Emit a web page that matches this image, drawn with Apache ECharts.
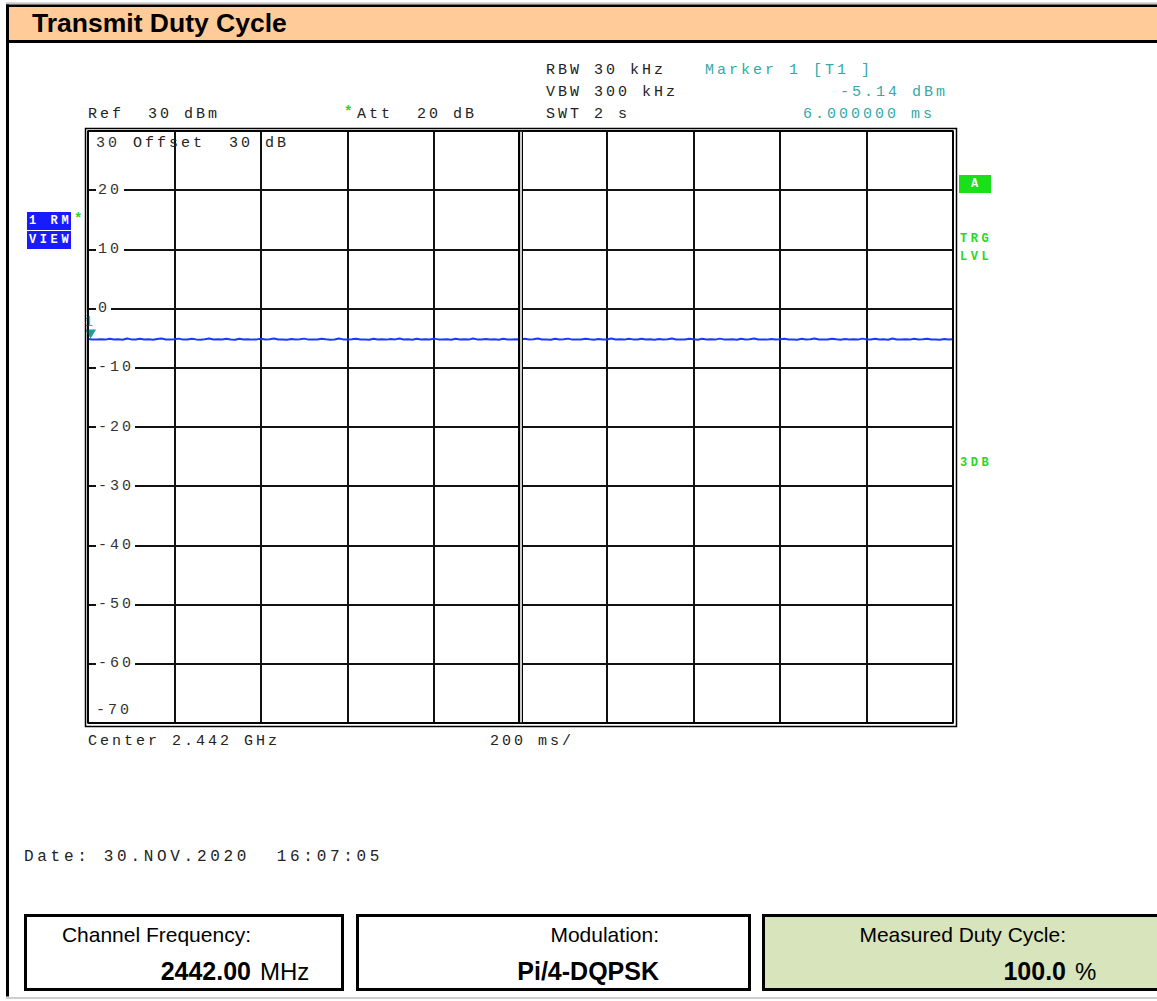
<!DOCTYPE html>
<html>
<head>
<meta charset="utf-8">
<script src="https://cdn.jsdelivr.net/npm/echarts@6/dist/echarts.min.js"></script>
<style>
html,body{margin:0;padding:0;background:#fff;}
#c{width:1157px;height:1001px;}
#c text[style*="Liberation Mono"]{letter-spacing:3.6px;}
#c text[style*="Liberation Mono"][style*="15px"]{letter-spacing:3px;}
#c text[style*="Liberation Mono"][style*="16px"]{letter-spacing:3.7px;}
</style>
</head>
<body>
<div id="c"></div>
<script>
// ---------------- data ----------------
const titleText = 'Transmit Duty Cycle';
const sweepTimeMs = 2000;          // SWT 2 s
const timeDivMs = 200;             // 200 ms/div
const sampleStepMs = 10;           // trace sample spacing
const yTickValues = [30, 20, 10, 0, -10, -20, -30, -40, -50, -60, -70];
const traceLevelsDbm = [
 -5.14,-5.22,-5.20,-5.18,-5.24,-5.10,-5.21,-5.19,-5.25,-5.06,-5.20,-5.23,-5.08,-5.21,-5.18,-5.26,-5.12,-5.05,-5.22,-5.20,
 -5.19,-5.07,-5.24,-5.21,-5.09,-5.20,-5.25,-5.18,-5.06,-5.22,-5.19,-5.23,-5.11,-5.20,-5.26,-5.08,-5.21,-5.17,-5.24,-5.20,
 -5.10,-5.22,-5.19,-5.05,-5.23,-5.20,-5.27,-5.12,-5.21,-5.18,-5.07,-5.24,-5.20,-5.22,-5.09,-5.19,-5.25,-5.21,-5.06,-5.20,
 -5.23,-5.18,-5.11,-5.22,-5.20,-5.26,-5.08,-5.21,-5.19,-5.24,-5.13,-5.20,-5.05,-5.22,-5.19,-5.25,-5.10,-5.21,-5.18,-5.23,
 -5.07,-5.20,-5.22,-5.19,-5.26,-5.09,-5.21,-5.18,-5.24,-5.06,-5.20,-5.23,-5.12,-5.21,-5.19,-5.25,-5.08,-5.22,-5.20,-5.17,
 -5.24,-5.10,-5.21,-5.19,-5.05,-5.23,-5.20,-5.26,-5.11,-5.22,-5.18,-5.07,-5.24,-5.20,-5.21,-5.09,-5.19,-5.25,-5.13,-5.20,
 -5.22,-5.06,-5.21,-5.18,-5.24,-5.10,-5.20,-5.23,-5.08,-5.22,-5.19,-5.26,-5.12,-5.21,-5.17,-5.05,-5.23,-5.20,-5.22,-5.09,
 -5.19,-5.25,-5.11,-5.21,-5.18,-5.24,-5.07,-5.20,-5.22,-5.19,-5.26,-5.10,-5.21,-5.18,-5.06,-5.23,-5.20,-5.24,-5.12,-5.21,
 -5.19,-5.08,-5.22,-5.20,-5.25,-5.11,-5.21,-5.18,-5.05,-5.23,-5.20,-5.22,-5.09,-5.19,-5.26,-5.13,-5.21,-5.18,-5.24,-5.07,
 -5.20,-5.22,-5.10,-5.21,-5.19,-5.25,-5.06,-5.22,-5.20,-5.18,-5.24,-5.11,-5.21,-5.19,-5.08,-5.23,-5.20,-5.26,-5.12,-5.21,
 -5.18
];
const markerTimeMs = 6;
const markerLevelDbm = -5.14;
const setupLines = ['RBW 30 kHz', 'VBW 300 kHz', 'SWT 2 s'];
const refText = 'Ref  30 dBm';
const attText = 'Att  20 dB';
const offsetText = 'Offset  30 dB';
const centerText = 'Center 2.442 GHz';
const spanText = '200 ms/';
const dateText = 'Date: 30.NOV.2020  16:07:05';
const footerLabels = ['Channel Frequency:', 'Modulation:', 'Measured Duty Cycle:'];
const footerValues = ['2442.00', 'Pi/4-DQPSK', '100.0'];
const footerUnits = ['MHz', '', '%'];

// ---------------- build ----------------
const traceData = traceLevelsDbm.map((v, i) => [i * sampleStepMs, v]);
const MONO = 'Liberation Mono';
const SANS = 'Liberation Sans';
const TEAL = '#35a9a9';
const GREEN = '#26d826';
const TXT = '#222';

function txt(text, x, y, o) {
  o = o || {};
  return {
    type: 'text', x: x, y: y, silent: true, z: 10,
    style: {
      text: text,
      fill: o.color || TXT,
      fontFamily: o.family || MONO,
      fontSize: o.size || 15,
      fontWeight: o.weight || 'normal',
      textAlign: o.align || 'left',
      verticalAlign: 'middle',
      textVerticalAlign: 'middle'
    }
  };
}
function rect(x, y, w, h, style, z) {
  return { type: 'rect', silent: true, z: z || 5, shape: { x: x, y: y, width: w, height: h }, style: style };
}

const graphics = [
  // header
  rect(6, 2.5, 1151, 1.2, { fill: '#b5b5b5' }),
  rect(6, 4.5, 1151, 38, { fill: '#FFCC99' }),
  rect(6, 4.5, 1151, 2.6, { fill: '#000' }),
  rect(6, 40, 1151, 3, { fill: '#000' }),
  rect(6, 4.5, 3, 992, { fill: '#000' }),
  rect(6, 997, 1151, 2, { fill: '#cfcfcf' }),
  txt(titleText, 32, 23, { family: SANS, size: 26.5, weight: 'bold', color: '#000' }),
  // plot frame (double line)
  rect(88, 131, 865, 592, { fill: 'none', stroke: '#000', lineWidth: 1.5 }, 8),
  rect(85.5, 128.5, 871, 598, { fill: 'none', stroke: '#000', lineWidth: 1.5 }, 8),
  // top annotations
  txt(setupLines[0], 546, 70),
  txt(setupLines[1], 546, 92),
  txt(setupLines[2], 546, 114),
  txt('Marker 1 [T1 ]', 705, 70, { color: TEAL }),
  txt(markerLevelDbm.toFixed(2) + ' dBm', 840, 92, { color: TEAL }),
  txt(markerTimeMs.toFixed(6) + ' ms', 803, 114, { color: TEAL }),
  txt(refText, 88, 114),
  txt('*', 344, 112, { color: GREEN, weight: 'bold', size: 14 }),
  txt(attText, 357, 114),
  txt(offsetText, 133, 143),
  // left trace indicators
  rect(27, 212, 44, 18, { fill: '#1a1aff' }),
  rect(27, 231, 44, 18, { fill: '#1a1aff' }),
  txt('1 RM', 29, 221, { color: '#fff', size: 12, weight: 'bold' }),
  txt('VIEW', 29, 240, { color: '#fff', size: 12, weight: 'bold' }),
  txt('*', 74, 219, { color: GREEN, weight: 'bold', size: 14 }),
  // right indicators
  rect(959, 175, 32, 18, { fill: '#19e019' }),
  txt('A', 971, 184, { color: '#fff', size: 12, weight: 'bold' }),
  txt('TRG', 960, 239, { color: GREEN, size: 12, weight: 'bold' }),
  txt('LVL', 960, 257, { color: GREEN, size: 12, weight: 'bold' }),
  txt('3DB', 960, 463, { color: GREEN, size: 12, weight: 'bold' }),
  // bottom annotations
  txt(centerText, 88, 741),
  txt(spanText, 490, 741),
  txt(dateText, 24, 857, { size: 16 }),
  // footer boxes
  rect(25.5, 915.5, 317, 74, { fill: '#fff', stroke: '#000', lineWidth: 3 }),
  rect(357.5, 915.5, 392, 74, { fill: '#fff', stroke: '#000', lineWidth: 3 }),
  rect(763.5, 915.5, 400, 74, { fill: '#D8E4BC', stroke: '#000', lineWidth: 3 })
];
const footerRight = [251, 659, 1066];
for (let i = 0; i < 3; i++) {
  graphics.push(txt(footerLabels[i], footerRight[i], 934, { family: SANS, size: 21, color: '#000', align: 'right' }));
  graphics.push(txt(footerValues[i], footerRight[i], 971, { family: SANS, size: 25, weight: 'bold', color: '#000', align: 'right' }));
  if (footerUnits[i]) {
    graphics.push(txt(footerUnits[i], footerRight[i] + 9, 971, { family: SANS, size: 24, color: '#000' }));
  }
}

const chart = echarts.init(document.getElementById('c'), null, { renderer: 'svg' });
const yLabelStyle = { fontFamily: MONO, fontSize: 15, color: '#333' };
chart.setOption({
  animation: false,
  backgroundColor: '#fff',
  grid: { left: 88, top: 131, width: 865, height: 592, show: false },
  xAxis: {
    type: 'value', min: 0, max: sweepTimeMs, interval: timeDivMs,
    axisLine: { show: false }, axisTick: { show: false }, axisLabel: { show: false },
    splitLine: { show: true, lineStyle: { color: '#111', width: 2 } }
  },
  yAxis: {
    type: 'value',
    min: Math.min.apply(null, yTickValues), max: Math.max.apply(null, yTickValues), interval: 10,
    axisLine: { show: false }, axisTick: { show: false },
    splitLine: { show: true, lineStyle: { color: '#111', width: 2 } },
    axisLabel: {
      inside: true, margin: 8, align: 'left',
      formatter: function (v) {
        if (yTickValues.indexOf(v) < 0) return '';
        if (v === Math.max.apply(null, yTickValues)) return '{t|' + v + '}';
        if (v === Math.min.apply(null, yTickValues)) return '{b|' + v + '}';
        const s = String(v);
        return '{m' + s.length + '|' + s + '}';
      },
      rich: {
        t: Object.assign({ padding: [24, 0, 0, 0] }, yLabelStyle),
        b: Object.assign({ padding: [0, 0, 26, 0] }, yLabelStyle),
        m1: Object.assign({ backgroundColor: '#fff', padding: [2, 4, 2, 2] }, yLabelStyle),
        m2: Object.assign({ backgroundColor: '#fff', padding: [2, 8, 2, 2] }, yLabelStyle),
        m3: Object.assign({ backgroundColor: '#fff', padding: [2, 10, 2, 2] }, yLabelStyle)
      }
    }
  },
  series: [
    {
      type: 'line', data: [], z: 1, silent: true,
      markLine: {
        silent: true, symbol: 'none', label: { show: false },
        data: [
          { xAxis: sweepTimeMs / 2, lineStyle: { color: '#000', width: 5, type: 'solid' } },
          { xAxis: sweepTimeMs / 2, lineStyle: { color: '#fff', width: 1.6, type: 'solid' } }
        ]
      }
    },
    {
      type: 'line', data: traceData, z: 3, showSymbol: false, silent: true,
      lineStyle: { color: '#1a3aff', width: 2 },
      markPoint: {
        silent: true,
        symbol: 'triangle', symbolSize: [11, 9], symbolRotate: 180, symbolOffset: [0, -5],
        itemStyle: { color: '#1f9c9c' },
        label: { show: true, position: 'top', distance: 1, formatter: '1', color: TEAL, fontFamily: MONO, fontSize: 14 },
        data: [{ coord: [markerTimeMs, markerLevelDbm] }]
      }
    }
  ],
  graphic: graphics
});
</script>
</body>
</html>
